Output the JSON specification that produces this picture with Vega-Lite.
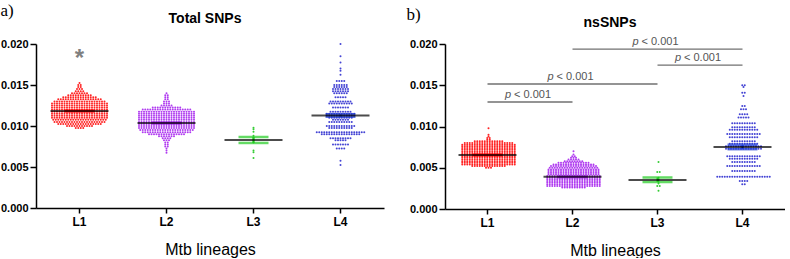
{
"$schema": "https://vega.github.io/schema/vega-lite/v6.json",
"padding": {"left": 0, "top": 2, "right": 0, "bottom": 0},
"background": "white",
"spacing": 22,
"config": {
 "view": {"stroke": null},
 "font": "Liberation Sans",
 "axis": {"domainColor": "#000", "domainWidth": 1.5, "tickColor": "#000", "tickWidth": 1.5, "tickSize": 5, "labelColor": "#000", "labelFont": "Liberation Sans", "labelFontWeight": "bold", "grid": false, "titleFont": "Liberation Sans", "titleFontWeight": "normal", "titleColor": "#000", "titleFontSize": 16}
},
"datasets": {
"t1": [
{"v":0.01525},
{"v":0.015},{"v":0.015},
{"v":0.01475},{"v":0.01475},
{"v":0.0145},{"v":0.0145},{"v":0.0145},
{"v":0.01425},{"v":0.01425},{"v":0.01425},{"v":0.01425},
{"v":0.014},{"v":0.014},{"v":0.014},{"v":0.014},{"v":0.014},{"v":0.014},{"v":0.014},
{"v":0.01375},{"v":0.01375},{"v":0.01375},{"v":0.01375},{"v":0.01375},{"v":0.01375},{"v":0.01375},{"v":0.01375},{"v":0.01375},{"v":0.01375},
{"v":0.0135},{"v":0.0135},{"v":0.0135},{"v":0.0135},{"v":0.0135},{"v":0.0135},{"v":0.0135},{"v":0.0135},{"v":0.0135},{"v":0.0135},{"v":0.0135},{"v":0.0135},{"v":0.0135},{"v":0.0135},
{"v":0.01325},{"v":0.01325},{"v":0.01325},{"v":0.01325},{"v":0.01325},{"v":0.01325},{"v":0.01325},{"v":0.01325},{"v":0.01325},{"v":0.01325},{"v":0.01325},{"v":0.01325},{"v":0.01325},{"v":0.01325},{"v":0.01325},{"v":0.01325},{"v":0.01325},{"v":0.01325},
{"v":0.013},{"v":0.013},{"v":0.013},{"v":0.013},{"v":0.013},{"v":0.013},{"v":0.013},{"v":0.013},{"v":0.013},{"v":0.013},{"v":0.013},{"v":0.013},{"v":0.013},{"v":0.013},{"v":0.013},{"v":0.013},{"v":0.013},{"v":0.013},{"v":0.013},{"v":0.013},{"v":0.013},
{"v":0.01275},{"v":0.01275},{"v":0.01275},{"v":0.01275},{"v":0.01275},{"v":0.01275},{"v":0.01275},{"v":0.01275},{"v":0.01275},{"v":0.01275},{"v":0.01275},{"v":0.01275},{"v":0.01275},{"v":0.01275},{"v":0.01275},{"v":0.01275},{"v":0.01275},{"v":0.01275},{"v":0.01275},{"v":0.01275},{"v":0.01275},{"v":0.01275},{"v":0.01275},
{"v":0.0125},{"v":0.0125},{"v":0.0125},{"v":0.0125},{"v":0.0125},{"v":0.0125},{"v":0.0125},{"v":0.0125},{"v":0.0125},{"v":0.0125},{"v":0.0125},{"v":0.0125},{"v":0.0125},{"v":0.0125},{"v":0.0125},{"v":0.0125},{"v":0.0125},{"v":0.0125},{"v":0.0125},{"v":0.0125},{"v":0.0125},{"v":0.0125},{"v":0.0125},
{"v":0.01225},{"v":0.01225},{"v":0.01225},{"v":0.01225},{"v":0.01225},{"v":0.01225},{"v":0.01225},{"v":0.01225},{"v":0.01225},{"v":0.01225},{"v":0.01225},{"v":0.01225},{"v":0.01225},{"v":0.01225},{"v":0.01225},{"v":0.01225},{"v":0.01225},{"v":0.01225},{"v":0.01225},{"v":0.01225},{"v":0.01225},{"v":0.01225},{"v":0.01225},
{"v":0.012},{"v":0.012},{"v":0.012},{"v":0.012},{"v":0.012},{"v":0.012},{"v":0.012},{"v":0.012},{"v":0.012},{"v":0.012},{"v":0.012},{"v":0.012},{"v":0.012},{"v":0.012},{"v":0.012},{"v":0.012},{"v":0.012},{"v":0.012},{"v":0.012},{"v":0.012},{"v":0.012},{"v":0.012},{"v":0.012},
{"v":0.01175},{"v":0.01175},{"v":0.01175},{"v":0.01175},{"v":0.01175},{"v":0.01175},{"v":0.01175},{"v":0.01175},{"v":0.01175},{"v":0.01175},{"v":0.01175},{"v":0.01175},{"v":0.01175},{"v":0.01175},{"v":0.01175},{"v":0.01175},{"v":0.01175},{"v":0.01175},{"v":0.01175},{"v":0.01175},{"v":0.01175},{"v":0.01175},{"v":0.01175},
{"v":0.0115},{"v":0.0115},{"v":0.0115},{"v":0.0115},{"v":0.0115},{"v":0.0115},{"v":0.0115},{"v":0.0115},{"v":0.0115},{"v":0.0115},{"v":0.0115},{"v":0.0115},{"v":0.0115},{"v":0.0115},{"v":0.0115},{"v":0.0115},{"v":0.0115},{"v":0.0115},{"v":0.0115},{"v":0.0115},{"v":0.0115},{"v":0.0115},{"v":0.0115},
{"v":0.01125},{"v":0.01125},{"v":0.01125},{"v":0.01125},{"v":0.01125},{"v":0.01125},{"v":0.01125},{"v":0.01125},{"v":0.01125},{"v":0.01125},{"v":0.01125},{"v":0.01125},{"v":0.01125},{"v":0.01125},{"v":0.01125},{"v":0.01125},{"v":0.01125},{"v":0.01125},{"v":0.01125},{"v":0.01125},{"v":0.01125},{"v":0.01125},{"v":0.01125},
{"v":0.011},{"v":0.011},{"v":0.011},{"v":0.011},{"v":0.011},{"v":0.011},{"v":0.011},{"v":0.011},{"v":0.011},{"v":0.011},{"v":0.011},{"v":0.011},{"v":0.011},{"v":0.011},{"v":0.011},{"v":0.011},{"v":0.011},{"v":0.011},{"v":0.011},{"v":0.011},{"v":0.011},{"v":0.011},{"v":0.011},
{"v":0.01075},{"v":0.01075},{"v":0.01075},{"v":0.01075},{"v":0.01075},{"v":0.01075},{"v":0.01075},{"v":0.01075},{"v":0.01075},{"v":0.01075},{"v":0.01075},{"v":0.01075},{"v":0.01075},{"v":0.01075},{"v":0.01075},{"v":0.01075},{"v":0.01075},{"v":0.01075},{"v":0.01075},{"v":0.01075},{"v":0.01075},{"v":0.01075},
{"v":0.0105},{"v":0.0105},{"v":0.0105},{"v":0.0105},{"v":0.0105},{"v":0.0105},{"v":0.0105},{"v":0.0105},{"v":0.0105},{"v":0.0105},{"v":0.0105},{"v":0.0105},{"v":0.0105},{"v":0.0105},{"v":0.0105},{"v":0.0105},{"v":0.0105},{"v":0.0105},{"v":0.0105},{"v":0.0105},{"v":0.0105},
{"v":0.01025},{"v":0.01025},{"v":0.01025},{"v":0.01025},{"v":0.01025},{"v":0.01025},{"v":0.01025},{"v":0.01025},{"v":0.01025},{"v":0.01025},{"v":0.01025},{"v":0.01025},{"v":0.01025},{"v":0.01025},{"v":0.01025},{"v":0.01025},{"v":0.01025},{"v":0.01025},
{"v":0.01},{"v":0.01},{"v":0.01},{"v":0.01},{"v":0.01},{"v":0.01},{"v":0.01},{"v":0.01},{"v":0.01},{"v":0.01},{"v":0.01},
{"v":0.00975},{"v":0.00975},{"v":0.00975},{"v":0.00975}
],
"t2": [
{"v":0.014},
{"v":0.01375},{"v":0.01375},
{"v":0.0135},{"v":0.0135},
{"v":0.01325},{"v":0.01325},
{"v":0.013},{"v":0.013},{"v":0.013},
{"v":0.01275},{"v":0.01275},{"v":0.01275},
{"v":0.0125},{"v":0.0125},{"v":0.0125},{"v":0.0125},{"v":0.0125},
{"v":0.01225},{"v":0.01225},{"v":0.01225},{"v":0.01225},{"v":0.01225},{"v":0.01225},{"v":0.01225},{"v":0.01225},{"v":0.01225},{"v":0.01225},{"v":0.01225},{"v":0.01225},
{"v":0.012},{"v":0.012},{"v":0.012},{"v":0.012},{"v":0.012},{"v":0.012},{"v":0.012},{"v":0.012},{"v":0.012},{"v":0.012},{"v":0.012},{"v":0.012},{"v":0.012},{"v":0.012},{"v":0.012},{"v":0.012},{"v":0.012},{"v":0.012},{"v":0.012},{"v":0.012},
{"v":0.01175},{"v":0.01175},{"v":0.01175},{"v":0.01175},{"v":0.01175},{"v":0.01175},{"v":0.01175},{"v":0.01175},{"v":0.01175},{"v":0.01175},{"v":0.01175},{"v":0.01175},{"v":0.01175},{"v":0.01175},{"v":0.01175},{"v":0.01175},{"v":0.01175},{"v":0.01175},{"v":0.01175},{"v":0.01175},{"v":0.01175},{"v":0.01175},{"v":0.01175},
{"v":0.0115},{"v":0.0115},{"v":0.0115},{"v":0.0115},{"v":0.0115},{"v":0.0115},{"v":0.0115},{"v":0.0115},{"v":0.0115},{"v":0.0115},{"v":0.0115},{"v":0.0115},{"v":0.0115},{"v":0.0115},{"v":0.0115},{"v":0.0115},{"v":0.0115},{"v":0.0115},{"v":0.0115},{"v":0.0115},{"v":0.0115},{"v":0.0115},{"v":0.0115},
{"v":0.01125},{"v":0.01125},{"v":0.01125},{"v":0.01125},{"v":0.01125},{"v":0.01125},{"v":0.01125},{"v":0.01125},{"v":0.01125},{"v":0.01125},{"v":0.01125},{"v":0.01125},{"v":0.01125},{"v":0.01125},{"v":0.01125},{"v":0.01125},{"v":0.01125},{"v":0.01125},{"v":0.01125},{"v":0.01125},{"v":0.01125},{"v":0.01125},{"v":0.01125},
{"v":0.011},{"v":0.011},{"v":0.011},{"v":0.011},{"v":0.011},{"v":0.011},{"v":0.011},{"v":0.011},{"v":0.011},{"v":0.011},{"v":0.011},{"v":0.011},{"v":0.011},{"v":0.011},{"v":0.011},{"v":0.011},{"v":0.011},{"v":0.011},{"v":0.011},{"v":0.011},{"v":0.011},{"v":0.011},{"v":0.011},
{"v":0.01075},{"v":0.01075},{"v":0.01075},{"v":0.01075},{"v":0.01075},{"v":0.01075},{"v":0.01075},{"v":0.01075},{"v":0.01075},{"v":0.01075},{"v":0.01075},{"v":0.01075},{"v":0.01075},{"v":0.01075},{"v":0.01075},{"v":0.01075},{"v":0.01075},{"v":0.01075},{"v":0.01075},{"v":0.01075},{"v":0.01075},{"v":0.01075},{"v":0.01075},
{"v":0.0105},{"v":0.0105},{"v":0.0105},{"v":0.0105},{"v":0.0105},{"v":0.0105},{"v":0.0105},{"v":0.0105},{"v":0.0105},{"v":0.0105},{"v":0.0105},{"v":0.0105},{"v":0.0105},{"v":0.0105},{"v":0.0105},{"v":0.0105},{"v":0.0105},{"v":0.0105},{"v":0.0105},{"v":0.0105},{"v":0.0105},{"v":0.0105},{"v":0.0105},
{"v":0.01025},{"v":0.01025},{"v":0.01025},{"v":0.01025},{"v":0.01025},{"v":0.01025},{"v":0.01025},{"v":0.01025},{"v":0.01025},{"v":0.01025},{"v":0.01025},{"v":0.01025},{"v":0.01025},{"v":0.01025},{"v":0.01025},{"v":0.01025},{"v":0.01025},{"v":0.01025},{"v":0.01025},{"v":0.01025},{"v":0.01025},{"v":0.01025},{"v":0.01025},
{"v":0.01},{"v":0.01},{"v":0.01},{"v":0.01},{"v":0.01},{"v":0.01},{"v":0.01},{"v":0.01},{"v":0.01},{"v":0.01},{"v":0.01},{"v":0.01},{"v":0.01},{"v":0.01},{"v":0.01},{"v":0.01},{"v":0.01},{"v":0.01},{"v":0.01},{"v":0.01},{"v":0.01},{"v":0.01},{"v":0.01},
{"v":0.00975},{"v":0.00975},{"v":0.00975},{"v":0.00975},{"v":0.00975},{"v":0.00975},{"v":0.00975},{"v":0.00975},{"v":0.00975},{"v":0.00975},{"v":0.00975},{"v":0.00975},{"v":0.00975},{"v":0.00975},{"v":0.00975},{"v":0.00975},{"v":0.00975},{"v":0.00975},{"v":0.00975},{"v":0.00975},{"v":0.00975},{"v":0.00975},{"v":0.00975},
{"v":0.0095},{"v":0.0095},{"v":0.0095},{"v":0.0095},{"v":0.0095},{"v":0.0095},{"v":0.0095},{"v":0.0095},{"v":0.0095},{"v":0.0095},{"v":0.0095},{"v":0.0095},{"v":0.0095},{"v":0.0095},{"v":0.0095},{"v":0.0095},{"v":0.0095},{"v":0.0095},{"v":0.0095},{"v":0.0095},{"v":0.0095},{"v":0.0095},
{"v":0.00925},{"v":0.00925},{"v":0.00925},{"v":0.00925},{"v":0.00925},{"v":0.00925},{"v":0.00925},{"v":0.00925},{"v":0.00925},{"v":0.00925},{"v":0.00925},{"v":0.00925},{"v":0.00925},{"v":0.00925},{"v":0.00925},{"v":0.00925},{"v":0.00925},{"v":0.00925},{"v":0.00925},{"v":0.00925},
{"v":0.009},{"v":0.009},{"v":0.009},{"v":0.009},{"v":0.009},{"v":0.009},{"v":0.009},{"v":0.009},{"v":0.009},{"v":0.009},{"v":0.009},{"v":0.009},{"v":0.009},{"v":0.009},{"v":0.009},
{"v":0.00875},{"v":0.00875},{"v":0.00875},{"v":0.00875},{"v":0.00875},{"v":0.00875},{"v":0.00875},
{"v":0.0085},{"v":0.0085},{"v":0.0085},{"v":0.0085},
{"v":0.00825},{"v":0.00825},{"v":0.00825},
{"v":0.008},{"v":0.008},
{"v":0.00775},{"v":0.00775},
{"v":0.0075},{"v":0.0075},
{"v":0.00725},
{"v":0.007},
{"v":0.00675}
],
"t3": [
{"v":0.0098},{"v":0.0096},{"v":0.0093},{"v":0.0088},{"v":0.0086},{"v":0.0084},{"v":0.0082},{"v":0.008},{"v":0.007},{"v":0.0068},{"v":0.0061}
],
"t4": [
{"v":0.02},{"v":0.0185},{"v":0.01775},{"v":0.017},{"v":0.01675},{"v":0.01625},
{"v":0.0155},{"v":0.0155},{"v":0.0155},{"v":0.0155},
{"v":0.015},{"v":0.015},{"v":0.015},{"v":0.015},{"v":0.015},{"v":0.015},
{"v":0.01475},{"v":0.01475},{"v":0.01475},{"v":0.01475},{"v":0.01475},{"v":0.01475},
{"v":0.0145},{"v":0.0145},{"v":0.0145},{"v":0.0145},{"v":0.0145},{"v":0.0145},{"v":0.0145},
{"v":0.01425},{"v":0.01425},{"v":0.01425},{"v":0.01425},{"v":0.01425},{"v":0.01425},{"v":0.01425},
{"v":0.014},{"v":0.014},{"v":0.014},{"v":0.014},{"v":0.014},{"v":0.014},
{"v":0.0135},{"v":0.0135},{"v":0.0135},{"v":0.0135},{"v":0.0135},
{"v":0.013},{"v":0.013},{"v":0.013},{"v":0.013},{"v":0.013},{"v":0.013},{"v":0.013},{"v":0.013},{"v":0.013},
{"v":0.01275},{"v":0.01275},{"v":0.01275},{"v":0.01275},{"v":0.01275},{"v":0.01275},{"v":0.01275},{"v":0.01275},{"v":0.01275},{"v":0.01275},
{"v":0.01225},{"v":0.01225},{"v":0.01225},{"v":0.01225},{"v":0.01225},{"v":0.01225},{"v":0.01225},
{"v":0.01175},{"v":0.01175},{"v":0.01175},{"v":0.01175},{"v":0.01175},{"v":0.01175},{"v":0.01175},{"v":0.01175},{"v":0.01175},
{"v":0.0115},{"v":0.0115},{"v":0.0115},{"v":0.0115},{"v":0.0115},{"v":0.0115},{"v":0.0115},{"v":0.0115},{"v":0.0115},{"v":0.0115},{"v":0.0115},{"v":0.0115},
{"v":0.01125},{"v":0.01125},{"v":0.01125},{"v":0.01125},{"v":0.01125},{"v":0.01125},{"v":0.01125},{"v":0.01125},{"v":0.01125},{"v":0.01125},{"v":0.01125},{"v":0.01125},
{"v":0.011},{"v":0.011},{"v":0.011},{"v":0.011},{"v":0.011},{"v":0.011},{"v":0.011},{"v":0.011},{"v":0.011},{"v":0.011},
{"v":0.01075},{"v":0.01075},{"v":0.01075},{"v":0.01075},{"v":0.01075},{"v":0.01075},{"v":0.01075},
{"v":0.0105},{"v":0.0105},{"v":0.0105},{"v":0.0105},{"v":0.0105},{"v":0.0105},{"v":0.0105},{"v":0.0105},{"v":0.0105},{"v":0.0105},
{"v":0.01},{"v":0.01},{"v":0.01},{"v":0.01},{"v":0.01},{"v":0.01},{"v":0.01},{"v":0.01},{"v":0.01},{"v":0.01},{"v":0.01},{"v":0.01},
{"v":0.00975},{"v":0.00975},{"v":0.00975},{"v":0.00975},{"v":0.00975},{"v":0.00975},{"v":0.00975},{"v":0.00975},{"v":0.00975},{"v":0.00975},
{"v":0.00925},{"v":0.00925},{"v":0.00925},{"v":0.00925},{"v":0.00925},{"v":0.00925},{"v":0.00925},{"v":0.00925},{"v":0.00925},{"v":0.00925},{"v":0.00925},{"v":0.00925},{"v":0.00925},{"v":0.00925},{"v":0.00925},{"v":0.00925},{"v":0.00925},{"v":0.00925},{"v":0.00925},{"v":0.00925},
{"v":0.009},{"v":0.009},{"v":0.009},{"v":0.009},{"v":0.009},{"v":0.009},{"v":0.009},{"v":0.009},{"v":0.009},{"v":0.009},{"v":0.009},{"v":0.009},{"v":0.009},{"v":0.009},{"v":0.009},{"v":0.009},
{"v":0.0085},{"v":0.0085},{"v":0.0085},{"v":0.0085},{"v":0.0085},{"v":0.0085},{"v":0.0085},{"v":0.0085},{"v":0.0085},
{"v":0.00825},{"v":0.00825},{"v":0.00825},{"v":0.00825},{"v":0.00825},
{"v":0.00775},{"v":0.00775},{"v":0.00775},{"v":0.00775},{"v":0.00775},{"v":0.00775},{"v":0.00775},
{"v":0.00725},{"v":0.00725},{"v":0.00725},{"v":0.00725},
{"v":0.00575},{"v":0.00525}
],
"n1": [
{"v":0.0098},{"v":0.009},{"v":0.0088},
{"v":0.0086},{"v":0.0086},
{"v":0.0084},{"v":0.0084},
{"v":0.0082},{"v":0.0082},{"v":0.0082},{"v":0.0082},{"v":0.0082},{"v":0.0082},{"v":0.0082},{"v":0.0082},{"v":0.0082},{"v":0.0082},{"v":0.0082},{"v":0.0082},
{"v":0.008},{"v":0.008},{"v":0.008},{"v":0.008},{"v":0.008},{"v":0.008},{"v":0.008},{"v":0.008},{"v":0.008},{"v":0.008},{"v":0.008},{"v":0.008},{"v":0.008},{"v":0.008},{"v":0.008},{"v":0.008},{"v":0.008},{"v":0.008},{"v":0.008},{"v":0.008},
{"v":0.0078},{"v":0.0078},{"v":0.0078},{"v":0.0078},{"v":0.0078},{"v":0.0078},{"v":0.0078},{"v":0.0078},{"v":0.0078},{"v":0.0078},{"v":0.0078},{"v":0.0078},{"v":0.0078},{"v":0.0078},{"v":0.0078},{"v":0.0078},{"v":0.0078},{"v":0.0078},{"v":0.0078},{"v":0.0078},{"v":0.0078},{"v":0.0078},
{"v":0.0076},{"v":0.0076},{"v":0.0076},{"v":0.0076},{"v":0.0076},{"v":0.0076},{"v":0.0076},{"v":0.0076},{"v":0.0076},{"v":0.0076},{"v":0.0076},{"v":0.0076},{"v":0.0076},{"v":0.0076},{"v":0.0076},{"v":0.0076},{"v":0.0076},{"v":0.0076},{"v":0.0076},{"v":0.0076},{"v":0.0076},{"v":0.0076},
{"v":0.0074},{"v":0.0074},{"v":0.0074},{"v":0.0074},{"v":0.0074},{"v":0.0074},{"v":0.0074},{"v":0.0074},{"v":0.0074},{"v":0.0074},{"v":0.0074},{"v":0.0074},{"v":0.0074},{"v":0.0074},{"v":0.0074},{"v":0.0074},{"v":0.0074},{"v":0.0074},{"v":0.0074},{"v":0.0074},{"v":0.0074},{"v":0.0074},
{"v":0.0072},{"v":0.0072},{"v":0.0072},{"v":0.0072},{"v":0.0072},{"v":0.0072},{"v":0.0072},{"v":0.0072},{"v":0.0072},{"v":0.0072},{"v":0.0072},{"v":0.0072},{"v":0.0072},{"v":0.0072},{"v":0.0072},{"v":0.0072},{"v":0.0072},{"v":0.0072},{"v":0.0072},{"v":0.0072},{"v":0.0072},{"v":0.0072},
{"v":0.007},{"v":0.007},{"v":0.007},{"v":0.007},{"v":0.007},{"v":0.007},{"v":0.007},{"v":0.007},{"v":0.007},{"v":0.007},{"v":0.007},{"v":0.007},{"v":0.007},{"v":0.007},{"v":0.007},{"v":0.007},{"v":0.007},{"v":0.007},{"v":0.007},{"v":0.007},{"v":0.007},{"v":0.007},
{"v":0.0068},{"v":0.0068},{"v":0.0068},{"v":0.0068},{"v":0.0068},{"v":0.0068},{"v":0.0068},{"v":0.0068},{"v":0.0068},{"v":0.0068},{"v":0.0068},{"v":0.0068},{"v":0.0068},{"v":0.0068},{"v":0.0068},{"v":0.0068},{"v":0.0068},{"v":0.0068},{"v":0.0068},{"v":0.0068},{"v":0.0068},{"v":0.0068},
{"v":0.0066},{"v":0.0066},{"v":0.0066},{"v":0.0066},{"v":0.0066},{"v":0.0066},{"v":0.0066},{"v":0.0066},{"v":0.0066},{"v":0.0066},{"v":0.0066},{"v":0.0066},{"v":0.0066},{"v":0.0066},{"v":0.0066},{"v":0.0066},{"v":0.0066},{"v":0.0066},{"v":0.0066},{"v":0.0066},{"v":0.0066},{"v":0.0066},
{"v":0.0064},{"v":0.0064},{"v":0.0064},{"v":0.0064},{"v":0.0064},{"v":0.0064},{"v":0.0064},{"v":0.0064},{"v":0.0064},{"v":0.0064},{"v":0.0064},{"v":0.0064},{"v":0.0064},{"v":0.0064},{"v":0.0064},{"v":0.0064},{"v":0.0064},{"v":0.0064},{"v":0.0064},{"v":0.0064},{"v":0.0064},{"v":0.0064},
{"v":0.0062},{"v":0.0062},{"v":0.0062},{"v":0.0062},{"v":0.0062},{"v":0.0062},{"v":0.0062},{"v":0.0062},{"v":0.0062},{"v":0.0062},{"v":0.0062},{"v":0.0062},{"v":0.0062},{"v":0.0062},{"v":0.0062},{"v":0.0062},{"v":0.0062},{"v":0.0062},{"v":0.0062},{"v":0.0062},{"v":0.0062},{"v":0.0062},
{"v":0.006},{"v":0.006},{"v":0.006},{"v":0.006},{"v":0.006},{"v":0.006},{"v":0.006},{"v":0.006},{"v":0.006},{"v":0.006},{"v":0.006},{"v":0.006},{"v":0.006},{"v":0.006},{"v":0.006},{"v":0.006},{"v":0.006},{"v":0.006},{"v":0.006},{"v":0.006},{"v":0.006},{"v":0.006},
{"v":0.0058},{"v":0.0058},{"v":0.0058},{"v":0.0058},{"v":0.0058},{"v":0.0058},{"v":0.0058},{"v":0.0058},{"v":0.0058},{"v":0.0058},{"v":0.0058},{"v":0.0058},{"v":0.0058},{"v":0.0058},{"v":0.0058},{"v":0.0058},{"v":0.0058},{"v":0.0058},{"v":0.0058},{"v":0.0058},{"v":0.0058},{"v":0.0058},
{"v":0.0056},{"v":0.0056},{"v":0.0056},{"v":0.0056},{"v":0.0056},{"v":0.0056},{"v":0.0056},{"v":0.0056},{"v":0.0056},{"v":0.0056},{"v":0.0056},{"v":0.0056},{"v":0.0056},{"v":0.0056},{"v":0.0056},{"v":0.0056},{"v":0.0056},{"v":0.0056},{"v":0.0056},{"v":0.0056},{"v":0.0056},{"v":0.0056},
{"v":0.0054},{"v":0.0054},{"v":0.0054},{"v":0.0054},{"v":0.0054},{"v":0.0054},{"v":0.0054},{"v":0.0054},{"v":0.0054},{"v":0.0054},{"v":0.0054},{"v":0.0054},{"v":0.0054},{"v":0.0054},{"v":0.0054},{"v":0.0054},{"v":0.0054},{"v":0.0054},{"v":0.0054},{"v":0.0054},{"v":0.0054},{"v":0.0054},
{"v":0.0052},{"v":0.0052},{"v":0.0052},{"v":0.0052},{"v":0.0052},{"v":0.0052},{"v":0.0052},{"v":0.0052},{"v":0.0052},{"v":0.0052},{"v":0.0052},{"v":0.0052},{"v":0.0052},{"v":0.0052},
{"v":0.005},{"v":0.005},{"v":0.005}
],
"n2": [
{"v":0.007},{"v":0.0066},
{"v":0.0064},{"v":0.0064},
{"v":0.0062},{"v":0.0062},{"v":0.0062},
{"v":0.006},{"v":0.006},{"v":0.006},{"v":0.006},{"v":0.006},
{"v":0.0058},{"v":0.0058},{"v":0.0058},{"v":0.0058},{"v":0.0058},{"v":0.0058},{"v":0.0058},{"v":0.0058},
{"v":0.0056},{"v":0.0056},{"v":0.0056},{"v":0.0056},{"v":0.0056},{"v":0.0056},{"v":0.0056},{"v":0.0056},{"v":0.0056},{"v":0.0056},{"v":0.0056},{"v":0.0056},{"v":0.0056},
{"v":0.0054},{"v":0.0054},{"v":0.0054},{"v":0.0054},{"v":0.0054},{"v":0.0054},{"v":0.0054},{"v":0.0054},{"v":0.0054},{"v":0.0054},{"v":0.0054},{"v":0.0054},{"v":0.0054},{"v":0.0054},{"v":0.0054},{"v":0.0054},{"v":0.0054},
{"v":0.0052},{"v":0.0052},{"v":0.0052},{"v":0.0052},{"v":0.0052},{"v":0.0052},{"v":0.0052},{"v":0.0052},{"v":0.0052},{"v":0.0052},{"v":0.0052},{"v":0.0052},{"v":0.0052},{"v":0.0052},{"v":0.0052},{"v":0.0052},{"v":0.0052},{"v":0.0052},{"v":0.0052},
{"v":0.005},{"v":0.005},{"v":0.005},{"v":0.005},{"v":0.005},{"v":0.005},{"v":0.005},{"v":0.005},{"v":0.005},{"v":0.005},{"v":0.005},{"v":0.005},{"v":0.005},{"v":0.005},{"v":0.005},{"v":0.005},{"v":0.005},{"v":0.005},{"v":0.005},{"v":0.005},
{"v":0.0048},{"v":0.0048},{"v":0.0048},{"v":0.0048},{"v":0.0048},{"v":0.0048},{"v":0.0048},{"v":0.0048},{"v":0.0048},{"v":0.0048},{"v":0.0048},{"v":0.0048},{"v":0.0048},{"v":0.0048},{"v":0.0048},{"v":0.0048},{"v":0.0048},{"v":0.0048},{"v":0.0048},{"v":0.0048},{"v":0.0048},
{"v":0.0046},{"v":0.0046},{"v":0.0046},{"v":0.0046},{"v":0.0046},{"v":0.0046},{"v":0.0046},{"v":0.0046},{"v":0.0046},{"v":0.0046},{"v":0.0046},{"v":0.0046},{"v":0.0046},{"v":0.0046},{"v":0.0046},{"v":0.0046},{"v":0.0046},{"v":0.0046},{"v":0.0046},{"v":0.0046},{"v":0.0046},
{"v":0.0044},{"v":0.0044},{"v":0.0044},{"v":0.0044},{"v":0.0044},{"v":0.0044},{"v":0.0044},{"v":0.0044},{"v":0.0044},{"v":0.0044},{"v":0.0044},{"v":0.0044},{"v":0.0044},{"v":0.0044},{"v":0.0044},{"v":0.0044},{"v":0.0044},{"v":0.0044},{"v":0.0044},{"v":0.0044},{"v":0.0044},
{"v":0.0042},{"v":0.0042},{"v":0.0042},{"v":0.0042},{"v":0.0042},{"v":0.0042},{"v":0.0042},{"v":0.0042},{"v":0.0042},{"v":0.0042},{"v":0.0042},{"v":0.0042},{"v":0.0042},{"v":0.0042},{"v":0.0042},{"v":0.0042},{"v":0.0042},{"v":0.0042},{"v":0.0042},{"v":0.0042},{"v":0.0042},
{"v":0.004},{"v":0.004},{"v":0.004},{"v":0.004},{"v":0.004},{"v":0.004},{"v":0.004},{"v":0.004},{"v":0.004},{"v":0.004},{"v":0.004},{"v":0.004},{"v":0.004},{"v":0.004},{"v":0.004},{"v":0.004},{"v":0.004},{"v":0.004},{"v":0.004},{"v":0.004},{"v":0.004},{"v":0.004},
{"v":0.0038},{"v":0.0038},{"v":0.0038},{"v":0.0038},{"v":0.0038},{"v":0.0038},{"v":0.0038},{"v":0.0038},{"v":0.0038},{"v":0.0038},{"v":0.0038},{"v":0.0038},{"v":0.0038},{"v":0.0038},{"v":0.0038},{"v":0.0038},{"v":0.0038},{"v":0.0038},{"v":0.0038},{"v":0.0038},{"v":0.0038},{"v":0.0038},
{"v":0.0036},{"v":0.0036},{"v":0.0036},{"v":0.0036},{"v":0.0036},{"v":0.0036},{"v":0.0036},{"v":0.0036},{"v":0.0036},{"v":0.0036},{"v":0.0036},{"v":0.0036},{"v":0.0036},{"v":0.0036},{"v":0.0036},{"v":0.0036},{"v":0.0036},{"v":0.0036},{"v":0.0036},{"v":0.0036},{"v":0.0036},{"v":0.0036},
{"v":0.0034},{"v":0.0034},{"v":0.0034},{"v":0.0034},{"v":0.0034},{"v":0.0034},{"v":0.0034},{"v":0.0034},{"v":0.0034},{"v":0.0034},{"v":0.0034},{"v":0.0034},{"v":0.0034},{"v":0.0034},{"v":0.0034},{"v":0.0034},{"v":0.0034},{"v":0.0034},{"v":0.0034},{"v":0.0034},{"v":0.0034},{"v":0.0034},
{"v":0.0032},{"v":0.0032},{"v":0.0032},{"v":0.0032},{"v":0.0032},{"v":0.0032},{"v":0.0032},{"v":0.0032},{"v":0.0032},{"v":0.0032},{"v":0.0032},{"v":0.0032},{"v":0.0032},{"v":0.0032},{"v":0.0032},{"v":0.0032},{"v":0.0032},{"v":0.0032},{"v":0.0032},{"v":0.0032},{"v":0.0032},{"v":0.0032},
{"v":0.003},{"v":0.003},{"v":0.003},{"v":0.003},{"v":0.003},{"v":0.003},{"v":0.003},{"v":0.003},{"v":0.003},{"v":0.003},{"v":0.003},{"v":0.003},{"v":0.003},{"v":0.003},{"v":0.003},{"v":0.003},{"v":0.003},{"v":0.003},{"v":0.003},{"v":0.003},{"v":0.003},{"v":0.003},
{"v":0.0028},{"v":0.0028},{"v":0.0028},{"v":0.0028},{"v":0.0028},{"v":0.0028},{"v":0.0028},{"v":0.0028},{"v":0.0028},{"v":0.0028},{"v":0.0028},{"v":0.0028},{"v":0.0028},{"v":0.0028},{"v":0.0028},{"v":0.0028},{"v":0.0028},{"v":0.0028},{"v":0.0028},{"v":0.0028},{"v":0.0028},{"v":0.0028},
{"v":0.0026},{"v":0.0026},{"v":0.0026},{"v":0.0026},{"v":0.0026},{"v":0.0026},{"v":0.0026},{"v":0.0026},{"v":0.0026},{"v":0.0026}
],
"n3": [
{"v":0.0057},{"v":0.0045},{"v":0.0045},{"v":0.0038},{"v":0.0036},{"v":0.0035},{"v":0.0033},{"v":0.0031},{"v":0.0028},{"v":0.0028},{"v":0.0022}
],
"n4": [
{"v":0.015},{"v":0.015},{"v":0.0148},
{"v":0.0141},{"v":0.0141},{"v":0.0137},
{"v":0.0125},{"v":0.0125},
{"v":0.0121},{"v":0.0121},{"v":0.0121},
{"v":0.0115},{"v":0.0115},{"v":0.0115},{"v":0.0115},
{"v":0.0111},{"v":0.0111},{"v":0.0111},{"v":0.0111},{"v":0.0111},
{"v":0.0104},{"v":0.0104},{"v":0.0104},{"v":0.0104},{"v":0.0104},{"v":0.0104},{"v":0.0104},{"v":0.0104},{"v":0.0104},{"v":0.0104},
{"v":0.0099},{"v":0.0099},{"v":0.0099},{"v":0.0099},{"v":0.0099},{"v":0.0099},{"v":0.0099},{"v":0.0099},{"v":0.0099},{"v":0.0099},
{"v":0.0096},{"v":0.0096},{"v":0.0096},{"v":0.0096},{"v":0.0096},{"v":0.0096},{"v":0.0096},{"v":0.0096},{"v":0.0096},{"v":0.0096},{"v":0.0096},{"v":0.0096},
{"v":0.0091},{"v":0.0091},{"v":0.0091},{"v":0.0091},{"v":0.0091},{"v":0.0091},{"v":0.0091},{"v":0.0091},{"v":0.0091},{"v":0.0091},{"v":0.0091},{"v":0.0091},{"v":0.0091},{"v":0.0091},
{"v":0.0087},{"v":0.0087},{"v":0.0087},{"v":0.0087},{"v":0.0087},{"v":0.0087},{"v":0.0087},{"v":0.0087},{"v":0.0087},{"v":0.0087},{"v":0.0087},{"v":0.0087},
{"v":0.0082},{"v":0.0082},{"v":0.0082},{"v":0.0082},{"v":0.0082},{"v":0.0082},{"v":0.0082},{"v":0.0082},{"v":0.0082},{"v":0.0082},
{"v":0.0079},{"v":0.0079},{"v":0.0079},{"v":0.0079},{"v":0.0079},{"v":0.0079},{"v":0.0079},{"v":0.0079},{"v":0.0079},{"v":0.0079},{"v":0.0079},{"v":0.0079},
{"v":0.0076},{"v":0.0076},{"v":0.0076},{"v":0.0076},{"v":0.0076},{"v":0.0076},{"v":0.0076},{"v":0.0076},{"v":0.0076},{"v":0.0076},{"v":0.0076},{"v":0.0076},{"v":0.0076},{"v":0.0076},{"v":0.0076},
{"v":0.0073},{"v":0.0073},{"v":0.0073},{"v":0.0073},{"v":0.0073},{"v":0.0073},{"v":0.0073},{"v":0.0073},{"v":0.0073},{"v":0.0073},{"v":0.0073},{"v":0.0073},{"v":0.0073},{"v":0.0073},{"v":0.0073},
{"v":0.0064},{"v":0.0064},{"v":0.0064},{"v":0.0064},{"v":0.0064},{"v":0.0064},{"v":0.0064},{"v":0.0064},{"v":0.0064},{"v":0.0064},{"v":0.0064},{"v":0.0064},{"v":0.0064},{"v":0.0064},
{"v":0.0061},{"v":0.0061},{"v":0.0061},{"v":0.0061},{"v":0.0061},{"v":0.0061},{"v":0.0061},{"v":0.0061},{"v":0.0061},{"v":0.0061},{"v":0.0061},{"v":0.0061},
{"v":0.0057},{"v":0.0057},{"v":0.0057},{"v":0.0057},{"v":0.0057},{"v":0.0057},{"v":0.0057},{"v":0.0057},{"v":0.0057},{"v":0.0057},
{"v":0.0052},{"v":0.0052},{"v":0.0052},{"v":0.0052},{"v":0.0052},{"v":0.0052},{"v":0.0052},{"v":0.0052},{"v":0.0052},{"v":0.0052},{"v":0.0052},{"v":0.0052},{"v":0.0052},{"v":0.0052},
{"v":0.0046},{"v":0.0046},{"v":0.0046},{"v":0.0046},{"v":0.0046},{"v":0.0046},{"v":0.0046},{"v":0.0046},{"v":0.0046},{"v":0.0046},
{"v":0.0039},{"v":0.0039},{"v":0.0039},{"v":0.0039},{"v":0.0039},{"v":0.0039},{"v":0.0039},{"v":0.0039},{"v":0.0039},{"v":0.0039},{"v":0.0039},{"v":0.0039},{"v":0.0039},{"v":0.0039},{"v":0.0039},{"v":0.0039},{"v":0.0039},{"v":0.0039},{"v":0.0039},{"v":0.0039},{"v":0.0039},{"v":0.0039},
{"v":0.0034},{"v":0.0034},{"v":0.0034},{"v":0.0034},
{"v":0.003},{"v":0.003}
],
"sa": [
{"g":"L1","m":0.01183,"lo":0.01177,"hi":0.01189},
{"g":"L2","m":0.01037,"lo":0.01031,"hi":0.01043},
{"g":"L3","m":0.00829,"lo":0.00793,"hi":0.00866},
{"g":"L4","m":0.01128,"lo":0.01113,"hi":0.01143}
],
"sb": [
{"g":"L1","m":0.00655,"lo":0.0065,"hi":0.0066},
{"g":"L2","m":0.0039,"lo":0.00385,"hi":0.00395},
{"g":"L3","m":0.00352,"lo":0.00327,"hi":0.00382},
{"g":"L4","m":0.00752,"lo":0.00725,"hi":0.00779}
],
"an": [
{"a":"L1","b":"L2","y":0.01297,"t":"L2","p":0},
{"a":"L1","b":"L3","y":0.01515,"t":"L2","p":0.5},
{"a":"L2","b":"L4","y":0.01939,"t":"L3","p":0.5},
{"a":"L3","b":"L4","y":0.01745,"t":"L4","p":0}
],
"ast": [
{"g":"L1","y":0.0173,"s":"*"}
]
},
"hconcat": [
{
"title": {"text": "a)", "font": "Liberation Serif", "fontSize": 17, "fontWeight": "normal", "anchor": "start", "dx": 0, "offset": -8, "color": "#000"},
"vconcat": [{
"width": 348, "height": 164,
"title": {"text": "Total SNPs", "font": "Liberation Sans", "fontSize": 14, "fontWeight": "bold", "anchor": "middle", "frame": "group", "dx": -5, "offset": 12, "color": "#000"},
"layer": [
{"data": {"name": "t1"}, "transform": [{"window": [{"op": "row_number", "as": "k"}], "groupby": ["v"]}, {"joinaggregate": [{"op": "count", "as": "c"}], "groupby": ["v"]}, {"calculate": "(datum.k-(datum.c+1)/2)*2.5", "as": "o"}],
 "mark": {"type": "circle", "size": 4, "opacity": 1, "color": "#ff2424"},
 "encoding": {
  "x": {"datum": "L1", "type": "nominal", "scale": {"domain": ["L1","L2","L3","L4"], "paddingInner": 0, "paddingOuter": 0}, "title": "Mtb lineages", "axis": {"labelAngle": 0, "labelFontSize": 12, "labelPadding": 3, "titlePadding": 14, "tickSize": 5}},
  "xOffset": {"field": "o", "type": "quantitative", "scale": {"domain": [-43.5, 43.5]}},
  "y": {"field": "v", "type": "quantitative", "scale": {"domain": [0, 0.02], "nice": false}, "title": null, "axis": {"values": [0, 0.005, 0.01, 0.015, 0.02], "format": ".3f", "labelFontSize": 11, "labelPadding": 2, "tickSize": 6}}
 }},
{"data": {"name": "t2"}, "transform": [{"window": [{"op": "row_number", "as": "k"}], "groupby": ["v"]}, {"joinaggregate": [{"op": "count", "as": "c"}], "groupby": ["v"]}, {"calculate": "(datum.k-(datum.c+1)/2)*2.5", "as": "o"}],
 "mark": {"type": "circle", "size": 4, "opacity": 1, "color": "#b03cf0"},
 "encoding": {"x": {"datum": "L2", "type": "nominal"}, "xOffset": {"field": "o", "type": "quantitative", "scale": {"domain": [-43.5, 43.5]}}, "y": {"field": "v", "type": "quantitative", "title": null}}},
{"data": {"name": "t3"}, "transform": [{"window": [{"op": "row_number", "as": "k"}], "groupby": ["v"]}, {"joinaggregate": [{"op": "count", "as": "c"}], "groupby": ["v"]}, {"calculate": "(datum.k-(datum.c+1)/2)*2.5", "as": "o"}],
 "mark": {"type": "circle", "size": 4, "opacity": 1, "color": "#33cc33"},
 "encoding": {"x": {"datum": "L3", "type": "nominal"}, "xOffset": {"field": "o", "type": "quantitative", "scale": {"domain": [-43.5, 43.5]}}, "y": {"field": "v", "type": "quantitative", "title": null}}},
{"data": {"name": "t4"}, "transform": [{"window": [{"op": "row_number", "as": "k"}], "groupby": ["v"]}, {"joinaggregate": [{"op": "count", "as": "c"}], "groupby": ["v"]}, {"calculate": "(datum.k-(datum.c+1)/2)*2.5", "as": "o"}],
 "mark": {"type": "circle", "size": 4, "opacity": 1, "color": "#4444d4"},
 "encoding": {"x": {"datum": "L4", "type": "nominal"}, "xOffset": {"field": "o", "type": "quantitative", "scale": {"domain": [-43.5, 43.5]}}, "y": {"field": "v", "type": "quantitative", "title": null}}},
{"data": {"name": "sa"}, "mark": {"type": "rule", "strokeWidth": 2},
 "encoding": {"x": {"field": "g", "type": "nominal", "title": "Mtb lineages"}, "y": {"field": "lo", "type": "quantitative", "title": null}, "y2": {"field": "hi"}, "color": {"field": "g", "type": "nominal", "scale": {"domain": ["L1","L2","L3","L4"], "range": ["#ff0000","#9a1fe0","#22cc22","#1f3fd6"]}, "legend": null}}},
{"data": {"name": "sa"}, "mark": {"type": "tick", "size": 30, "thickness": 2.5},
 "encoding": {"x": {"field": "g", "type": "nominal", "title": "Mtb lineages"}, "y": {"field": "lo", "type": "quantitative", "title": null}, "color": {"field": "g", "type": "nominal", "legend": null}}},
{"data": {"name": "sa"}, "mark": {"type": "tick", "size": 30, "thickness": 2.5},
 "encoding": {"x": {"field": "g", "type": "nominal", "title": "Mtb lineages"}, "y": {"field": "hi", "type": "quantitative", "title": null}, "color": {"field": "g", "type": "nominal", "legend": null}}},
{"data": {"name": "sa"}, "mark": {"type": "tick", "size": 58, "thickness": 2, "color": "#000"},
 "encoding": {"x": {"field": "g", "type": "nominal", "title": "Mtb lineages"}, "y": {"field": "m", "type": "quantitative", "title": null}}},
{"data": {"name": "ast"}, "mark": {"type": "text", "fontSize": 24, "fontWeight": "bold", "color": "#808080", "baseline": "alphabetic", "align": "center"},
 "encoding": {"x": {"field": "g", "type": "nominal", "title": "Mtb lineages"}, "y": {"field": "y", "type": "quantitative", "title": null}, "text": {"field": "s"}}}
]
}]
},
{
"title": {"text": "b)", "font": "Liberation Serif", "fontSize": 17, "fontWeight": "normal", "anchor": "start", "dx": -3, "offset": -8, "color": "#000"},
"vconcat": [{
"width": 340, "height": 165,
"title": {"text": "nsSNPs", "font": "Liberation Sans", "fontSize": 14, "fontWeight": "bold", "anchor": "middle", "frame": "group", "dx": -5, "offset": 6, "color": "#000"},
"layer": [
{"data": {"name": "n1"}, "transform": [{"window": [{"op": "row_number", "as": "k"}], "groupby": ["v"]}, {"joinaggregate": [{"op": "count", "as": "c"}], "groupby": ["v"]}, {"calculate": "(datum.k-(datum.c+1)/2)*2.5", "as": "o"}],
 "mark": {"type": "circle", "size": 4, "opacity": 1, "color": "#ff2424"},
 "encoding": {
  "x": {"datum": "L1", "type": "nominal", "scale": {"domain": ["L1","L2","L3","L4"], "paddingInner": 0, "paddingOuter": 0}, "title": "Mtb lineages", "axis": {"labelAngle": 0, "labelFontSize": 12, "labelPadding": 3, "titlePadding": 14, "tickSize": 5}},
  "xOffset": {"field": "o", "type": "quantitative", "scale": {"domain": [-42.5, 42.5]}},
  "y": {"field": "v", "type": "quantitative", "scale": {"domain": [0, 0.02], "nice": false}, "title": null, "axis": {"values": [0, 0.005, 0.01, 0.015, 0.02], "format": ".3f", "labelFontSize": 11, "labelPadding": 2, "tickSize": 6}}
 }},
{"data": {"name": "n2"}, "transform": [{"window": [{"op": "row_number", "as": "k"}], "groupby": ["v"]}, {"joinaggregate": [{"op": "count", "as": "c"}], "groupby": ["v"]}, {"calculate": "(datum.k-(datum.c+1)/2)*2.5", "as": "o"}],
 "mark": {"type": "circle", "size": 4, "opacity": 1, "color": "#b03cf0"},
 "encoding": {"x": {"datum": "L2", "type": "nominal"}, "xOffset": {"field": "o", "type": "quantitative", "scale": {"domain": [-42.5, 42.5]}}, "y": {"field": "v", "type": "quantitative", "title": null}}},
{"data": {"name": "n3"}, "transform": [{"window": [{"op": "row_number", "as": "k"}], "groupby": ["v"]}, {"joinaggregate": [{"op": "count", "as": "c"}], "groupby": ["v"]}, {"calculate": "(datum.k-(datum.c+1)/2)*2.5", "as": "o"}],
 "mark": {"type": "circle", "size": 4, "opacity": 1, "color": "#33cc33"},
 "encoding": {"x": {"datum": "L3", "type": "nominal"}, "xOffset": {"field": "o", "type": "quantitative", "scale": {"domain": [-42.5, 42.5]}}, "y": {"field": "v", "type": "quantitative", "title": null}}},
{"data": {"name": "n4"}, "transform": [{"window": [{"op": "row_number", "as": "k"}], "groupby": ["v"]}, {"joinaggregate": [{"op": "count", "as": "c"}], "groupby": ["v"]}, {"calculate": "(datum.k-(datum.c+1)/2)*2.5", "as": "o"}],
 "mark": {"type": "circle", "size": 4, "opacity": 1, "color": "#4444d4"},
 "encoding": {"x": {"datum": "L4", "type": "nominal"}, "xOffset": {"field": "o", "type": "quantitative", "scale": {"domain": [-42.5, 42.5]}}, "y": {"field": "v", "type": "quantitative", "title": null}}},
{"data": {"name": "sb"}, "mark": {"type": "rule", "strokeWidth": 2},
 "encoding": {"x": {"field": "g", "type": "nominal", "title": "Mtb lineages"}, "y": {"field": "lo", "type": "quantitative", "title": null}, "y2": {"field": "hi"}, "color": {"field": "g", "type": "nominal", "scale": {"domain": ["L1","L2","L3","L4"], "range": ["#ff0000","#9a1fe0","#22cc22","#1f3fd6"]}, "legend": null}}},
{"data": {"name": "sb"}, "mark": {"type": "tick", "size": 30, "thickness": 2.5},
 "encoding": {"x": {"field": "g", "type": "nominal", "title": "Mtb lineages"}, "y": {"field": "lo", "type": "quantitative", "title": null}, "color": {"field": "g", "type": "nominal", "legend": null}}},
{"data": {"name": "sb"}, "mark": {"type": "tick", "size": 30, "thickness": 2.5},
 "encoding": {"x": {"field": "g", "type": "nominal", "title": "Mtb lineages"}, "y": {"field": "hi", "type": "quantitative", "title": null}, "color": {"field": "g", "type": "nominal", "legend": null}}},
{"data": {"name": "sb"}, "mark": {"type": "tick", "size": 58, "thickness": 2, "color": "#000"},
 "encoding": {"x": {"field": "g", "type": "nominal", "title": "Mtb lineages"}, "y": {"field": "m", "type": "quantitative", "title": null}}},
{"data": {"name": "an"}, "mark": {"type": "rule", "strokeWidth": 1.3, "color": "#707070"},
 "encoding": {"x": {"field": "a", "type": "nominal", "title": "Mtb lineages", "bandPosition": 0.5}, "x2": {"field": "b"}, "y": {"field": "y", "type": "quantitative", "title": null}}},
{"data": {"name": "an"}, "transform": [{"filter": "datum.p == 0"}], "mark": {"type": "text", "text": "p", "fontStyle": "italic", "fontSize": 11, "color": "#555", "align": "right", "baseline": "alphabetic", "dx": -19, "dy": -4},
 "encoding": {"x": {"field": "t", "type": "nominal", "bandPosition": 0, "title": "Mtb lineages"}, "y": {"field": "y", "type": "quantitative", "title": null}}},
{"data": {"name": "an"}, "transform": [{"filter": "datum.p == 0"}], "mark": {"type": "text", "text": "< 0.001", "fontSize": 11, "color": "#555", "align": "left", "baseline": "alphabetic", "dx": -16, "dy": -4},
 "encoding": {"x": {"field": "t", "type": "nominal", "bandPosition": 0, "title": "Mtb lineages"}, "y": {"field": "y", "type": "quantitative", "title": null}}},
{"data": {"name": "an"}, "transform": [{"filter": "datum.p == 0.5"}], "mark": {"type": "text", "text": "p", "fontStyle": "italic", "fontSize": 11, "color": "#555", "align": "right", "baseline": "alphabetic", "dx": -19, "dy": -4},
 "encoding": {"x": {"field": "t", "type": "nominal", "bandPosition": 0.5, "title": "Mtb lineages"}, "y": {"field": "y", "type": "quantitative", "title": null}}},
{"data": {"name": "an"}, "transform": [{"filter": "datum.p == 0.5"}], "mark": {"type": "text", "text": "< 0.001", "fontSize": 11, "color": "#555", "align": "left", "baseline": "alphabetic", "dx": -16, "dy": -4},
 "encoding": {"x": {"field": "t", "type": "nominal", "bandPosition": 0.5, "title": "Mtb lineages"}, "y": {"field": "y", "type": "quantitative", "title": null}}}
]
}]
}
]
}
